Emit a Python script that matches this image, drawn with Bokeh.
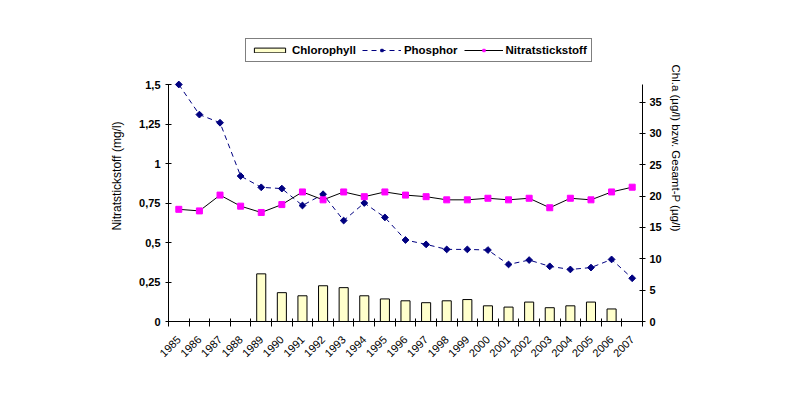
import math
from bokeh.plotting import figure
from bokeh.models import (Range1d, LinearAxis, FixedTicker, CustomJSTickFormatter,
                          Legend, LegendItem, Title)
from bokeh.embed import file_html
from bokeh.resources import INLINE

# ---- data ----
years = ["1985", "1986", "1987", "1988", "1989", "1990", "1991", "1992", "1993", "1994",
         "1995", "1996", "1997", "1998", "1999", "2000", "2001", "2002", "2003", "2004",
         "2005", "2006", "2007"]
nitrat = [0.71, 0.70, 0.80, 0.73, 0.69, 0.74, 0.82, 0.77, 0.82, 0.79, 0.82, 0.80,
          0.79, 0.77, 0.77, 0.78, 0.77, 0.78, 0.72, 0.78, 0.77, 0.82, 0.85]
phosphor = [37.8, 33.0, 31.7, 23.2, 21.4, 21.2, 18.5, 20.3, 16.1, 18.9, 16.6, 13.0,
            12.3, 11.5, 11.5, 11.4, 9.1, 9.8, 8.8, 8.3, 8.6, 9.9, 6.9]
chlorophyll = [None, None, None, None, 7.6, 4.6, 4.1, 5.7, 5.4, 4.1, 3.6, 3.3,
               3.0, 3.3, 3.5, 2.5, 2.3, 3.1, 2.2, 2.5, 3.1, 2.0, None]
left_ticks = [0, 0.25, 0.5, 0.75, 1, 1.25, 1.5]
right_ticks = [0, 5, 10, 15, 20, 25, 30, 35]
LEFT_MAX = 1.5
RIGHT_MAX = 37.8

FONT = "Liberation Sans"

# layout geometry (pixels)
W, H = 784, 384
FRAME_TOP, AXIS_TOP, FRAME_BOTTOM = 30, 84, 321
scale = (FRAME_BOTTOM - FRAME_TOP) / (FRAME_BOTTOM - AXIS_TOP)

xc = [i + 0.5 for i in range(len(years))]
bx = [xc[i] for i, v in enumerate(chlorophyll) if v is not None]
bt = [v for v in chlorophyll if v is not None]

p = figure(width=W, height=H, output_backend="svg", toolbar_location=None,
           x_range=Range1d(0, len(years)), y_range=Range1d(0, LEFT_MAX * scale),
           min_border_left=168, min_border_right=W - 642, min_border_top=FRAME_TOP,
           min_border_bottom=H - FRAME_BOTTOM)
p.extra_y_ranges = {"right": Range1d(0, RIGHT_MAX * scale)}
p.outline_line_color = None
p.background_fill_color = "white"
p.border_fill_color = "white"
p.xgrid.visible = False
p.ygrid.visible = False

bars = p.vbar(x=bx, top=bt, width=0.44, bottom=0, y_range_name="right",
              fill_color="#FFFFCC", line_color="black", line_width=1)
pl = p.line(xc, phosphor, y_range_name="right", line_color="#000080",
            line_width=1, line_dash="5 4")
pm = p.scatter(xc, phosphor, y_range_name="right", marker="square", angle=math.pi / 4,
               size=4.8, fill_color="#000080", line_color="#000080")
nl = p.line(xc, nitrat, line_color="black", line_width=1)
nm = p.scatter(xc, nitrat, marker="square", size=6, fill_color="#FF00FF",
               line_color="#FF00FF")

# x axis
xa = p.xaxis[0]
xa.ticker = FixedTicker(ticks=xc, minor_ticks=list(range(len(years) + 1)))
xa.formatter = CustomJSTickFormatter(args=dict(years=years),
                                     code="return years[Math.floor(tick)];")
xa.major_tick_line_color = None
xa.minor_tick_line_color = "black"
xa.minor_tick_in = 3
xa.minor_tick_out = 5
xa.axis_line_color = "black"
xa.major_label_orientation = math.pi / 4
xa.major_label_text_font = FONT
xa.major_label_text_font_size = "11px"
xa.major_label_text_color = "black"
xa.major_label_standoff = 10

# left axis
ya = p.yaxis[0]
ya.bounds = (0, LEFT_MAX)
ya.ticker = FixedTicker(ticks=left_ticks)
ya.formatter = CustomJSTickFormatter(code="return tick.toString().replace('.', ',');")
ya.minor_tick_line_color = None
ya.major_tick_in = 3
ya.major_tick_out = 3
ya.axis_line_color = "black"
ya.major_tick_line_color = "black"
ya.major_label_text_font = FONT
ya.major_label_text_font_style = "bold"
ya.major_label_text_font_size = "11px"
ya.major_label_text_color = "black"
ya.axis_label = "Nitratstickstoff (mg/l)"
ya.axis_label_text_font = FONT
ya.axis_label_text_font_style = "normal"
ya.axis_label_text_font_size = "12px"
ya.axis_label_text_color = "black"
ya.axis_label_standoff = 12

# right axis
ra = LinearAxis(y_range_name="right", ticker=FixedTicker(ticks=right_ticks),
                bounds=(0, RIGHT_MAX))
ra.minor_tick_line_color = None
ra.major_tick_in = 3
ra.major_tick_out = 3
ra.axis_line_color = "black"
ra.major_tick_line_color = "black"
ra.major_label_text_font = FONT
ra.major_label_text_font_style = "bold"
ra.major_label_text_font_size = "11px"
ra.major_label_text_color = "black"
ra.major_label_standoff = 4
p.add_layout(ra, "right")

rtitle = Title(text="Chl.a (µg/l) bzw. Gesamt-P (µg/l)", align="left", offset=34,
               text_font=FONT, text_font_size="11.5px", text_font_style="normal",
               text_color="black", standoff=10)
p.add_layout(rtitle, "right")

legend = Legend(items=[LegendItem(label="Chlorophyll", renderers=[bars]),
                       LegendItem(label="Phosphor", renderers=[pl, pm]),
                       LegendItem(label="Nitratstickstoff", renderers=[nl, nm])],
                location=(77, FRAME_BOTTOM - 62), orientation="horizontal")
legend.margin = 0
legend.padding = 4
legend.spacing = 6
legend.label_standoff = 3
legend.glyph_width = 39
legend.glyph_height = 6
legend.label_height = 14
legend.label_text_font = FONT
legend.label_text_font_style = "bold"
legend.label_text_font_size = "11.5px"
legend.label_text_color = "black"
legend.border_line_color = "black"
legend.border_line_width = 1
legend.background_fill_color = "white"
legend.background_fill_alpha = 1
p.add_layout(legend)

open("out.html", "w").write(file_html(p, INLINE))
